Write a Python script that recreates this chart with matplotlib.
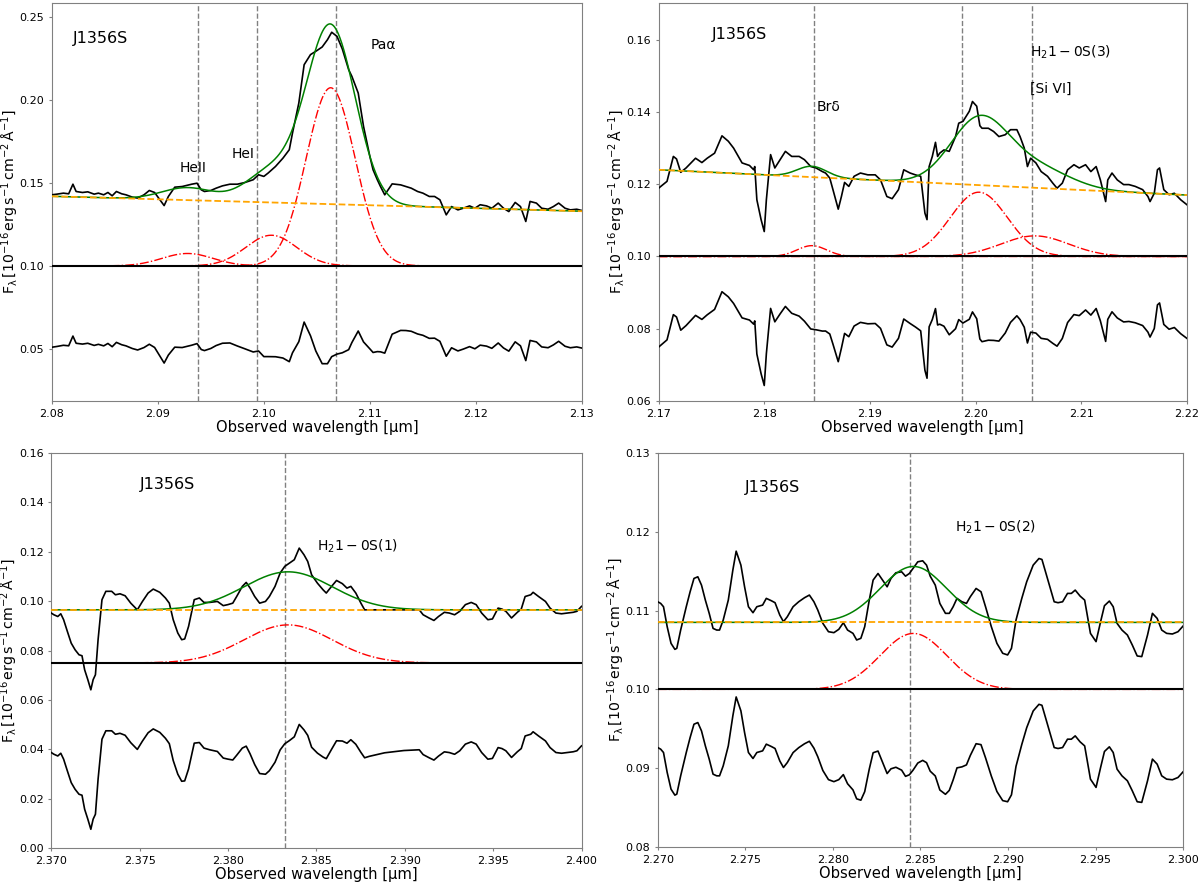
import numpy as np
import matplotlib
matplotlib.use("Agg")
from matplotlib import pyplot as plt

# ---- panel 1 : Pa alpha region ----
wav1 = [2.0800, 2.0805, 2.0811, 2.0816, 2.0820, 2.0823, 2.0829, 2.0834, 2.0840, 2.0844,
        2.0849, 2.0853, 2.0857, 2.0861, 2.0866, 2.0870, 2.0876, 2.0881, 2.0887, 2.0892,
        2.0897, 2.0902, 2.0906, 2.0910, 2.0916, 2.0923, 2.0932, 2.0937, 2.0941, 2.0944,
        2.0950, 2.0955, 2.0961, 2.0968, 2.0975, 2.0982, 2.0990, 2.0995, 2.1000, 2.1004,
        2.1011, 2.1018, 2.1024, 2.1027, 2.1033, 2.1038, 2.1044, 2.1049, 2.1055, 2.1060,
        2.1064, 2.1069, 2.1074, 2.1080, 2.1083, 2.1089, 2.1094, 2.1100, 2.1103, 2.1107,
        2.1110, 2.1114, 2.1121, 2.1129, 2.1134, 2.1139, 2.1145, 2.1150, 2.1156, 2.1161,
        2.1166, 2.1172, 2.1177, 2.1183, 2.1188, 2.1194, 2.1199, 2.1204, 2.1210, 2.1215,
        2.1221, 2.1226, 2.1231, 2.1237, 2.1242, 2.1247, 2.1251, 2.1257, 2.1262, 2.1268,
        2.1273, 2.1278, 2.1284, 2.1289, 2.1295, 2.1300]
flux1 = [0.1429, 0.1433, 0.1439, 0.1435, 0.1493, 0.1449, 0.1443, 0.1447, 0.1433, 0.1439,
         0.1429, 0.1443, 0.1423, 0.1449, 0.1435, 0.1429, 0.1415, 0.1409, 0.1429, 0.1455,
         0.1443, 0.1399, 0.1364, 0.1419, 0.1475, 0.1479, 0.1493, 0.1499, 0.1459, 0.1449,
         0.1455, 0.1469, 0.1483, 0.1493, 0.1493, 0.1503, 0.1520, 0.1550, 0.1540, 0.1560,
         0.1600, 0.1650, 0.1701, 0.1801, 0.1983, 0.2214, 0.2275, 0.2295, 0.2321, 0.2365,
         0.2410, 0.2385, 0.2309, 0.2184, 0.2144, 0.2043, 0.1842, 0.1660, 0.1580, 0.1520,
         0.1479, 0.1429, 0.1495, 0.1489, 0.1479, 0.1469, 0.1449, 0.1439, 0.1419, 0.1419,
         0.1399, 0.1308, 0.1358, 0.1338, 0.1348, 0.1362, 0.1348, 0.1369, 0.1362, 0.1348,
         0.1379, 0.1348, 0.1328, 0.1383, 0.1358, 0.1268, 0.1389, 0.1379, 0.1348, 0.1342,
         0.1358, 0.1379, 0.1348, 0.1338, 0.1342, 0.1334]
cont1 = [0.1420, 0.1330]          # continuum at 2.08 and 2.13
base1 = 0.100
off1 = 0.050
cen1 = [2.0928, 2.1007, 2.1063]   # HeII, HeI, Pa alpha
amp1 = [0.0075, 0.0185, 0.1075]
sig1 = [0.0024, 0.0024, 0.0023]
vl1 = [2.0938, 2.0994, 2.1068]

# ---- panel 2 : Br delta / H2 1-0S(3) / [SiVI] ----
wav2 = [2.1700, 2.1708, 2.1714, 2.1717, 2.1721, 2.1726, 2.1735, 2.1741, 2.1746, 2.1753,
        2.1760, 2.1766, 2.1771, 2.1779, 2.1786, 2.1790, 2.1791, 2.1793, 2.1797, 2.1800,
        2.1802, 2.1806, 2.1810, 2.1815, 2.1820, 2.1826, 2.1833, 2.1838, 2.1844, 2.1849,
        2.1855, 2.1858, 2.1862, 2.1865, 2.1870, 2.1873, 2.1876, 2.1880, 2.1885, 2.1891,
        2.1898, 2.1905, 2.1910, 2.1916, 2.1921, 2.1927, 2.1932, 2.1938, 2.1943, 2.1948,
        2.1952, 2.1954, 2.1956, 2.1959, 2.1962, 2.1964, 2.1966, 2.1970, 2.1975, 2.1981,
        2.1984, 2.1988, 2.1994, 2.1997, 2.2001, 2.2004, 2.2006, 2.2012, 2.2017, 2.2022,
        2.2028, 2.2033, 2.2039, 2.2042, 2.2046, 2.2049, 2.2052, 2.2057, 2.2062, 2.2068,
        2.2073, 2.2077, 2.2082, 2.2087, 2.2093, 2.2098, 2.2104, 2.2109, 2.2114, 2.2118,
        2.2123, 2.2125, 2.2129, 2.2134, 2.2140, 2.2145, 2.2151, 2.2158, 2.2163, 2.2165,
        2.2169, 2.2172, 2.2174, 2.2178, 2.2183, 2.2188, 2.2194, 2.2200]
flux2 = [0.1189, 0.1208, 0.1277, 0.1270, 0.1233, 0.1245, 0.1272, 0.1260, 0.1272, 0.1286,
         0.1334, 0.1319, 0.1300, 0.1259, 0.1252, 0.1240, 0.1249, 0.1157, 0.1102, 0.1069,
         0.1157, 0.1282, 0.1245, 0.1268, 0.1291, 0.1277, 0.1277, 0.1268, 0.1249, 0.1245,
         0.1235, 0.1231, 0.1217, 0.1185, 0.1131, 0.1166, 0.1205, 0.1194, 0.1222, 0.1231,
         0.1226, 0.1226, 0.1212, 0.1166, 0.1160, 0.1185, 0.1240, 0.1231, 0.1226, 0.1222,
         0.1120, 0.1102, 0.1249, 0.1277, 0.1316, 0.1277, 0.1286, 0.1295, 0.1291, 0.1332,
         0.1369, 0.1374, 0.1402, 0.1429, 0.1416, 0.1362, 0.1355, 0.1355, 0.1346, 0.1332,
         0.1337, 0.1351, 0.1351, 0.1332, 0.1300, 0.1249, 0.1272, 0.1259, 0.1235, 0.1222,
         0.1203, 0.1189, 0.1203, 0.1240, 0.1254, 0.1245, 0.1254, 0.1235, 0.1249, 0.1212,
         0.1152, 0.1212, 0.1231, 0.1212, 0.1199, 0.1199, 0.1194, 0.1185, 0.1166, 0.1152,
         0.1175, 0.1240, 0.1245, 0.1185, 0.1171, 0.1175, 0.1157, 0.1143]
cont2 = [0.1240, 0.1170]
base2 = 0.100
off2 = 0.080
cen2 = [2.1845, 2.2003, 2.2056]   # Br delta, H2 1-0S(3), [SiVI]
amp2 = [0.0030, 0.0178, 0.0057]
sig2 = [0.0014, 0.0027, 0.0032]
vl2 = [2.1847, 2.1987, 2.2053]

# ---- panel 3 : H2 1-0S(1) ----
wav3 = [2.37000, 2.37015, 2.37037, 2.37054, 2.37070, 2.37091, 2.37113, 2.37135, 2.37157, 2.37174,
        2.37189, 2.37207, 2.37224, 2.37237, 2.37250, 2.37265, 2.37287, 2.37309, 2.37342, 2.37363,
        2.37389, 2.37418, 2.37450, 2.37487, 2.37516, 2.37548, 2.37577, 2.37614, 2.37646, 2.37668,
        2.37690, 2.37716, 2.37738, 2.37755, 2.37777, 2.37809, 2.37838, 2.37864, 2.37896, 2.37940,
        2.37973, 2.37999, 2.38027, 2.38049, 2.38081, 2.38103, 2.38125, 2.38151, 2.38179, 2.38212,
        2.38234, 2.38266, 2.38295, 2.38321, 2.38347, 2.38375, 2.38403, 2.38430, 2.38451, 2.38473,
        2.38506, 2.38538, 2.38556, 2.38586, 2.38614, 2.38647, 2.38673, 2.38695, 2.38723, 2.38752,
        2.38773, 2.38799, 2.38886, 2.38995, 2.39082, 2.39104, 2.39137, 2.39165, 2.39191, 2.39224,
        2.39252, 2.39282, 2.39311, 2.39343, 2.39376, 2.39404, 2.39435, 2.39470, 2.39496, 2.39528,
        2.39550, 2.39572, 2.39604, 2.39637, 2.39659, 2.39681, 2.39713, 2.39726, 2.39757, 2.39796,
        2.39822, 2.39855, 2.39887, 2.39920, 2.39953, 2.39974, 2.40000]
flux3 = [0.0952, 0.0945, 0.0938, 0.0949, 0.0925, 0.0878, 0.0830, 0.0803, 0.0783, 0.0779,
         0.0722, 0.0682, 0.0641, 0.0682, 0.0702, 0.0844, 0.1006, 0.1040, 0.1040, 0.1026,
         0.1030, 0.1022, 0.0992, 0.0965, 0.0999, 0.1033, 0.1049, 0.1036, 0.1013, 0.0992,
         0.0925, 0.0871, 0.0844, 0.0847, 0.0898, 0.1006, 0.1013, 0.0995, 0.0995, 0.0999,
         0.0982, 0.0986, 0.0992, 0.1019, 0.1060, 0.1076, 0.1053, 0.1019, 0.0992, 0.0999,
         0.1019, 0.1060, 0.1114, 0.1141, 0.1154, 0.1168, 0.1215, 0.1188, 0.1161, 0.1107,
         0.1073, 0.1046, 0.1033, 0.1060, 0.1084, 0.1071, 0.1053, 0.1060, 0.1033, 0.0992,
         0.0965, 0.0965, 0.0965, 0.0965, 0.0965, 0.0945, 0.0932, 0.0922, 0.0938, 0.0955,
         0.0952, 0.0945, 0.0959, 0.0986, 0.0995, 0.0986, 0.0952, 0.0925, 0.0928, 0.0972,
         0.0968, 0.0959, 0.0932, 0.0955, 0.0968, 0.1019, 0.1026, 0.1036, 0.1019, 0.0999,
         0.0972, 0.0952, 0.0949, 0.0952, 0.0955, 0.0959, 0.0979]
cont3 = [0.0965, 0.0965]
base3 = 0.075
off3 = 0.040
cen3 = [2.3834]
amp3 = [0.0154]
sig3 = [0.0025]
vl3 = [2.3832]

# ---- panel 4 : H2 1-0S(2) ----
wav4 = [2.27000, 2.27017, 2.27033, 2.27054, 2.27076, 2.27098, 2.27109, 2.27131, 2.27163, 2.27185,
        2.27207, 2.27229, 2.27250, 2.27272, 2.27294, 2.27316, 2.27337, 2.27353, 2.27374, 2.27403,
        2.27429, 2.27448, 2.27475, 2.27496, 2.27518, 2.27544, 2.27566, 2.27599, 2.27620, 2.27649,
        2.27670, 2.27697, 2.27718, 2.27740, 2.27773, 2.27805, 2.27838, 2.27866, 2.27892, 2.27914,
        2.27943, 2.27975, 2.28006, 2.28034, 2.28060, 2.28084, 2.28115, 2.28136, 2.28160, 2.28182,
        2.28208, 2.28230, 2.28258, 2.28284, 2.28310, 2.28332, 2.28360, 2.28393, 2.28415, 2.28437,
        2.28458, 2.28485, 2.28513, 2.28535, 2.28556, 2.28585, 2.28611, 2.28643, 2.28665, 2.28687,
        2.28709, 2.28737, 2.28763, 2.28785, 2.28818, 2.28846, 2.28872, 2.28905, 2.28937, 2.28970,
        2.28998, 2.29020, 2.29046, 2.29079, 2.29107, 2.29144, 2.29177, 2.29194, 2.29220, 2.29242,
        2.29264, 2.29286, 2.29312, 2.29340, 2.29362, 2.29384, 2.29412, 2.29438, 2.29471, 2.29503,
        2.29529, 2.29551, 2.29579, 2.29601, 2.29623, 2.29651, 2.29682, 2.29710, 2.29738, 2.29764,
        2.29797, 2.29825, 2.29852, 2.29878, 2.29906, 2.29939, 2.29971, 2.30000]
flux4 = [0.11112, 0.11091, 0.11049, 0.10796, 0.10584, 0.10508, 0.10521, 0.10753, 0.11049, 0.11239,
         0.11408, 0.11429, 0.11323, 0.11133, 0.10965, 0.10774, 0.10753, 0.10753, 0.10880, 0.11133,
         0.11514, 0.11754, 0.11577, 0.11302, 0.11049, 0.10973, 0.11049, 0.11070, 0.11155, 0.11125,
         0.11100, 0.10943, 0.10859, 0.10922, 0.11049, 0.11112, 0.11163, 0.11197, 0.11112, 0.11007,
         0.10838, 0.10732, 0.10720, 0.10762, 0.10846, 0.10753, 0.10711, 0.10627, 0.10648, 0.10796,
         0.11133, 0.11387, 0.11471, 0.11387, 0.11302, 0.11408, 0.11480, 0.11492, 0.11437, 0.11471,
         0.11535, 0.11619, 0.11632, 0.11577, 0.11437, 0.11323, 0.11091, 0.10965, 0.10965, 0.11049,
         0.11155, 0.11112, 0.11091, 0.11176, 0.11281, 0.11239, 0.11049, 0.10796, 0.10584, 0.10458,
         0.10437, 0.10521, 0.10880, 0.11155, 0.11366, 0.11577, 0.11661, 0.11649, 0.11450, 0.11281,
         0.11112, 0.11100, 0.11112, 0.11218, 0.11218, 0.11260, 0.11184, 0.11133, 0.10711, 0.10606,
         0.10859, 0.11062, 0.11121, 0.11049, 0.10838, 0.10753, 0.10690, 0.10563, 0.10424, 0.10416,
         0.10690, 0.10965, 0.10901, 0.10753, 0.10711, 0.10703, 0.10732, 0.10804]
cont4 = [0.1085, 0.1085]
base4 = 0.100
off4 = 0.090
cen4 = [2.2846]
amp4 = [0.0071]
sig4 = [0.0019]
vl4 = [2.2844]

panels = [
    dict(w=wav1, f=flux1, cont=cont1, base=base1, off=off1, cen=cen1, amp=amp1, sig=sig1,
         vl=vl1, xlim=(2.08, 2.13), ylim=(0.0185, 0.2587), yt=np.arange(0.05, 0.26, 0.05),
         rect=[0.0431, 0.5454, 0.4419, 0.4513], fmt="%.2f",
         labels=[("J1356S", 2.0820, 0.2375, 11.5), ("Pa\u03b1", 2.1101, 0.2331, 10),
                 ("HeI", 2.0970, 0.1677, 10), ("HeII", 2.0921, 0.1590, 10)]),
    dict(w=wav2, f=flux2, cont=cont2, base=base2, off=off2, cen=cen2, amp=amp2, sig=sig2,
         vl=vl2, xlim=(2.17, 2.22), ylim=(0.06, 0.1702), yt=np.arange(0.06, 0.161, 0.02),
         rect=[0.5488, 0.5454, 0.4404, 0.4513], fmt="%.2f",
         labels=[("J1356S", 2.1750, 0.1614, 11.5), ("Br\u03b4", 2.1850, 0.1414, 10),
                 (r"$\mathrm{H_2 1-0S(3)}$", 2.2051, 0.1565, 10),
                 ("[Si VI]", 2.2051, 0.1464, 10)]),
    dict(w=wav3, f=flux3, cont=cont3, base=base3, off=off3, cen=cen3, amp=amp3, sig=sig3,
         vl=vl3, xlim=(2.37, 2.40), ylim=(0.0, 0.16), yt=np.arange(0.0, 0.161, 0.02),
         rect=[0.0427, 0.0385, 0.4419, 0.4478], fmt="%.3f",
         labels=[("J1356S", 2.3750, 0.1474, 11.5),
                 (r"$\mathrm{H_2 1-0S(1)}$", 2.38506, 0.1222, 10)]),
    dict(w=wav4, f=flux4, cont=cont4, base=base4, off=off4, cen=cen4, amp=amp4, sig=sig4,
         vl=vl4, xlim=(2.27, 2.30), ylim=(0.08, 0.13), yt=np.arange(0.08, 0.131, 0.01),
         rect=[0.5481, 0.0397, 0.4378, 0.4467], fmt="%.3f",
         labels=[("J1356S", 2.2750, 0.1256, 11.5),
                 (r"$\mathrm{H_2 1-0S(2)}$", 2.2870, 0.1206, 10)]),
]

ylab = r"$\mathrm{F_\lambda\,[10^{-16}\,erg\,s^{-1}\,cm^{-2}\,Å^{-1}]}$"

fig = plt.figure(figsize=(12, 8.82), dpi=100)
for p in panels:
    ax = fig.add_axes(p["rect"])
    w = np.array(p["w"])
    f = np.array(p["f"])
    x0, x1 = p["xlim"]
    grid = np.linspace(x0, x1, 800)

    def continuum(x):
        return p["cont"][0] + (p["cont"][1] - p["cont"][0]) * (x - x0) / (x1 - x0)

    def comps(x):
        return [a * np.exp(-(x - c) ** 2 / (2 * s ** 2))
                for c, a, s in zip(p["cen"], p["amp"], p["sig"])]

    model_grid = continuum(grid) + np.sum(comps(grid), axis=0)
    model_data = continuum(w) + np.sum(comps(w), axis=0)
    resid = f - model_data + p["off"]

    for v in p["vl"]:
        ax.axvline(v, color="0.5", ls="--", lw=1.0, zorder=1)
    for g in comps(grid):
        ax.plot(grid, p["base"] + g, color="red", ls="-.", lw=1.0, zorder=2)
    ax.axhline(p["base"], color="black", lw=1.5, zorder=3)
    ax.plot(w, f, color="black", lw=1.2, zorder=4)
    ax.plot(grid, model_grid, color="green", lw=1.1, zorder=5)
    ax.plot(grid, continuum(grid), color="orange", ls="--", lw=1.3, zorder=6)
    ax.plot(w, resid, color="black", lw=1.2, zorder=4)

    for txt, tx, ty, fs in p["labels"]:
        ax.text(tx, ty, txt, fontsize=fs, ha="left", va="center")

    ax.set_xlim(p["xlim"])
    ax.set_ylim(p["ylim"])
    ax.set_yticks(p["yt"])
    ax.yaxis.set_major_formatter(matplotlib.ticker.FormatStrFormatter("%.2f"))
    ax.xaxis.set_major_formatter(matplotlib.ticker.FormatStrFormatter(p["fmt"]))
    ax.set_xlabel("Observed wavelength [\u03bcm]", fontsize=10.6, labelpad=1)
    ax.set_ylabel(ylab, fontsize=10.2)
    ax.yaxis.set_label_coords(-0.058, 0.5)
    for s in ax.spines.values():
        s.set_color("0.5")
    ax.tick_params(axis="both", which="major", labelsize=8, color="0.5", length=2.5, pad=3)

fig.savefig("out.png", dpi=100)
